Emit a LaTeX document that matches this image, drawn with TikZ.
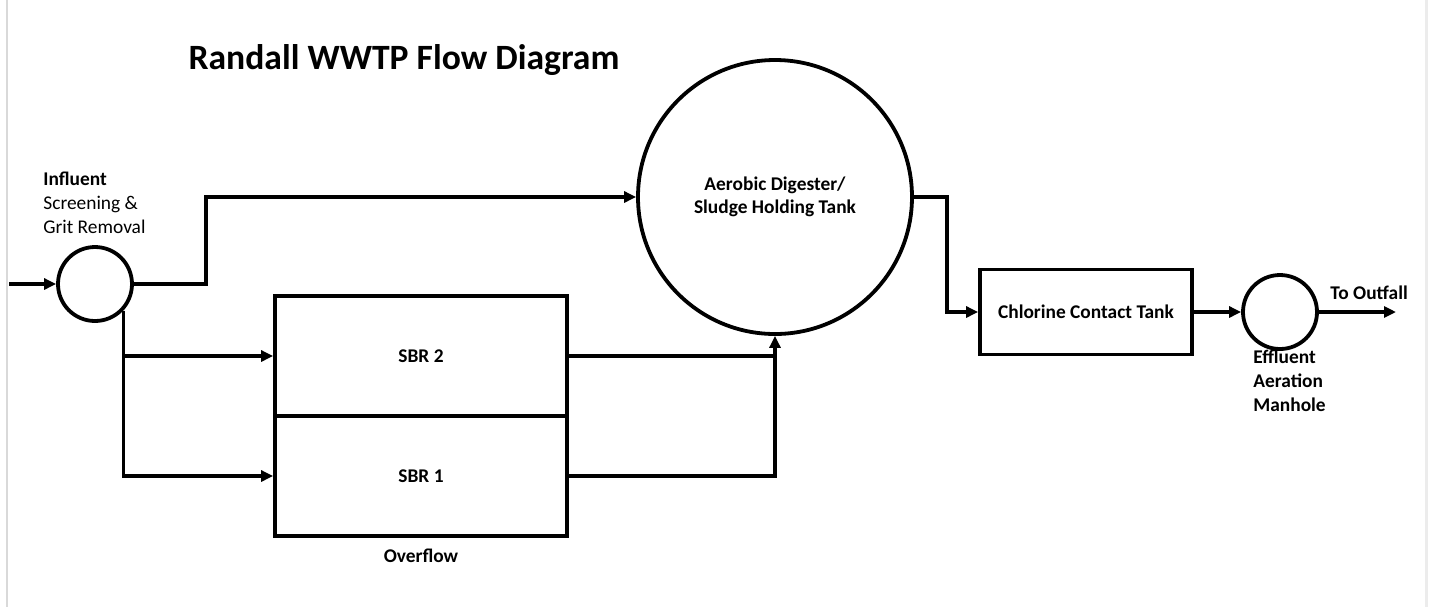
\documentclass[tikz,border=0pt]{standalone}
\usepackage{fontspec}
\setmainfont{Carlito}
\usetikzlibrary{arrows.meta}

\begin{document}
\begin{tikzpicture}[x=0.5pt,y=-0.5pt,
    pipe/.style={line width=1.9pt},
    flow/.style={pipe,-{Triangle[length=6pt,width=5.5pt]}},
    tank/.style={circle,draw,line width=1.9pt,inner sep=0pt},
    basin/.style={rectangle,draw,line width=1.9pt,inner sep=0pt,font=\fontsize{9.7}{12}\selectfont\bfseries},
    lbl/.style={font=\fontsize{9.7}{12}\selectfont,align=left,inner sep=0pt}]
  \useasboundingbox (0,0) rectangle (1436,607);
  \draw[gray!30,line width=1pt] (7,0) -- (7,607);
  \draw[gray!15,line width=1.5pt] (1426,0) -- (1426,607);
  \node[font=\fontsize{17.8}{22}\selectfont\bfseries] (title) at (404,60) {Randall WWTP Flow Diagram};
  % tanks
  \node[tank,minimum size=37pt] (influent) at (95,284) {};
  \node[tank,minimum size=137pt,font=\fontsize{9.7}{11.5}\selectfont\bfseries,align=center] (digester) at (775,197) {Aerobic Digester/\\Sludge Holding Tank};
  \node[basin,minimum width=146pt,minimum height=60pt] (sbr2) at (421,356) {SBR 2};
  \node[basin,minimum width=146pt,minimum height=60pt] (sbr1) at (421,476) {SBR 1};
  \node[basin,minimum width=106pt,minimum height=42.5pt] (cct) at (1086,312) {Chlorine Contact Tank};
  \node[tank,minimum size=37pt] (effluent) at (1280,312) {};
  % labels
  \node[lbl,anchor=north west] (influentlbl) at (43,172) {\textbf{Influent}\\Screening \&\\Grit Removal};
  \node[lbl,anchor=north] (overflow) at (421,549) {\textbf{Overflow}};
  \node[lbl,anchor=north west,font=\fontsize{9.7}{12}\selectfont\bfseries] (effluentlbl) at (1253,350) {Effluent\\Aeration\\Manhole};
  \node[lbl,anchor=south west,font=\fontsize{9.7}{12}\selectfont\bfseries] (outlbl) at (1330,300) {To Outfall};
  \coordinate (in) at (9,284);
  \coordinate (out) at (1396,312);
  % flow lines
  \draw[flow] (in) -- (influent);
  \draw[flow] (influent.east) -- ++(72,0) |- (digester.west);
  \draw[flow] (influent.-43) |- (sbr2.west);
  \draw[flow] (influent.-43) |- (sbr1.west);
  \draw[pipe] (sbr2.east) -- (sbr2.east -| digester.south);
  \draw[flow] (sbr1.east) -| (digester.south);
  \draw[flow] (digester.east) -- ++(33,0) |- (cct.west);
  \draw[flow] (cct) -- (effluent);
  \draw[flow] (effluent) -- (out);
\end{tikzpicture}
\end{document}
